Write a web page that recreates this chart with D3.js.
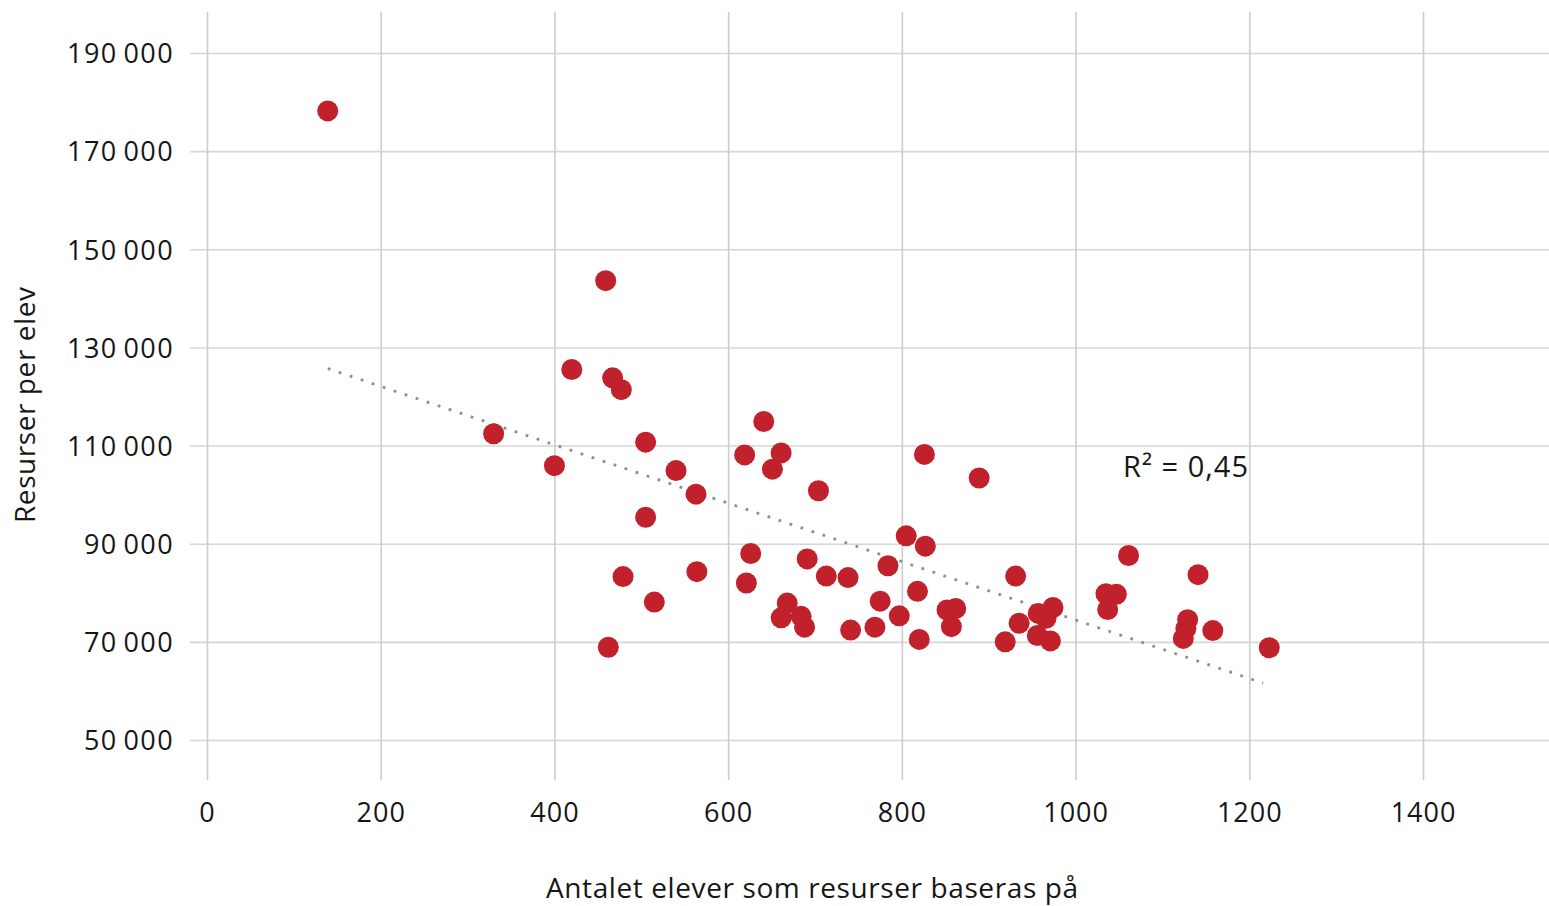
<!DOCTYPE html>
<html>
<head>
<meta charset="utf-8">
<script src="https://cdn.jsdelivr.net/npm/d3@7"></script>
<style>
  html, body { margin: 0; padding: 0; background: #fff; }
  svg { display: block; }
  text { font-family: "Open Sans", Lato, sans-serif; fill: #161616; font-weight: 500; }
</style>
</head>
<body>
<svg id="chart" width="1549" height="906"></svg>
<script>
// ---- data ----
const xTicks = [0, 200, 400, 600, 800, 1000, 1200, 1400];
const yTicks = [50000, 70000, 90000, 110000, 130000, 150000, 170000, 190000];

const students = [139, 459, 420, 467, 477, 330, 400, 505, 540, 563, 505, 479, 515, 462, 564,
  619, 641, 661, 651, 704, 626, 621, 668, 661, 684, 688, 691, 713, 738, 741,
  769, 775, 784, 797, 805, 818, 827, 826, 820, 852, 862, 857, 889, 919, 931,
  935, 957, 974, 966, 956, 971, 1035, 1047, 1037, 1061, 1129, 1127, 1124, 1141, 1158, 1223];
const resources = [178200, 143600, 125500, 123800, 121400, 112400, 105900, 110700, 104900, 100100, 95400, 83300, 78100, 68900, 84300,
  108100, 114900, 108500, 105200, 100800, 88000, 82000, 77900, 74900, 75200, 73000, 86900, 83400, 83100, 72400,
  73000, 78300, 85500, 75300, 91600, 80300, 89500, 108200, 70500, 76500, 76800, 73100, 103400, 70000, 83400,
  73800, 75800, 77000, 74800, 71300, 70200, 79800, 79700, 76600, 87600, 74500, 72700, 70700, 83700, 72300, 68800];

const trendX = [139, 1216];
const trendY = [125700, 61600];
const r2Label = "R\u00B2 = 0,45";
const r2Pos = [1200, 105800];
const xTitle = "Antalet elever som resurser baseras på";
const yTitle = "Resurser per elev";

// ---- layout ----
const svg = d3.select("#chart");
const gridLeft = 190, gridRight = 1549, gridTop = 12, gridBottom = 780;

const x = d3.scaleLinear().domain([0, 1400]).range([207, 1423]);
const y = d3.scaleLinear().domain([50000, 190000]).range([740, 53]);

const fmt = v => d3.format(",")(v).replace(/,/g, "\u2009");

// horizontal grid + y labels
const yAxis = svg.append("g")
  .attr("transform", `translate(${gridLeft},0)`)
  .call(d3.axisLeft(y).tickValues(yTicks).tickFormat(fmt)
    .tickSizeInner(-(gridRight - gridLeft)).tickSizeOuter(0).tickPadding(16));
yAxis.select(".domain").remove();
yAxis.selectAll(".tick line").attr("stroke", "#d6d6d6").attr("stroke-width", 1.6);
yAxis.selectAll(".tick text").attr("font-size", 27).attr("fill", "#161616")
  .attr("font-family", "'Open Sans', Lato, sans-serif")
  .attr("letter-spacing", 1.4).attr("dy", "0.36em");

// vertical grid + x labels
const xAxis = svg.append("g")
  .attr("transform", `translate(0,${gridBottom})`)
  .call(d3.axisBottom(x).tickValues(xTicks).tickFormat(d3.format("d"))
    .tickSizeInner(-(gridBottom - gridTop)).tickSizeOuter(0).tickPadding(0));
xAxis.select(".domain").remove();
xAxis.selectAll(".tick line").attr("stroke", "#cdcdcd").attr("stroke-width", 1.6);
xAxis.selectAll(".tick text").attr("font-size", 27).attr("fill", "#161616")
  .attr("font-family", "'Open Sans', Lato, sans-serif")
  .attr("letter-spacing", 1)
  .attr("y", 32).attr("dy", "0.36em");

// trend line
svg.append("line")
  .attr("x1", x(trendX[0])).attr("y1", y(trendY[0]))
  .attr("x2", x(trendX[1])).attr("y2", y(trendY[1]))
  .attr("stroke", "#8f8f8f").attr("stroke-width", 2.8)
  .attr("stroke-dasharray", "2.8 8.8");

// points
const pts = students.map((s, i) => ({ s, r: resources[i] }));
svg.append("g").selectAll("circle").data(pts).join("circle")
  .attr("cx", d => x(d.s)).attr("cy", d => y(d.r)).attr("r", 10.5)
  .attr("fill", "#c1212b");

// R² label
svg.append("text")
  .attr("x", 1248).attr("y", y(r2Pos[1]))
  .attr("text-anchor", "end").attr("dy", "0.36em")
  .attr("font-size", 29)
  .attr("textLength", 125).attr("lengthAdjust", "spacing")
  .text(r2Label);

// axis titles
svg.append("text")
  .attr("x", 812).attr("y", 888).attr("text-anchor", "middle").attr("dy", "0.36em")
  .attr("font-size", 28)
  .attr("textLength", 532).attr("lengthAdjust", "spacing")
  .text(xTitle);

svg.append("text")
  .attr("transform", "translate(25,405) rotate(-90)")
  .attr("text-anchor", "middle").attr("dy", "0.36em")
  .attr("font-size", 28)
  .attr("textLength", 236).attr("lengthAdjust", "spacing")
  .text(yTitle);
</script>
</body>
</html>
